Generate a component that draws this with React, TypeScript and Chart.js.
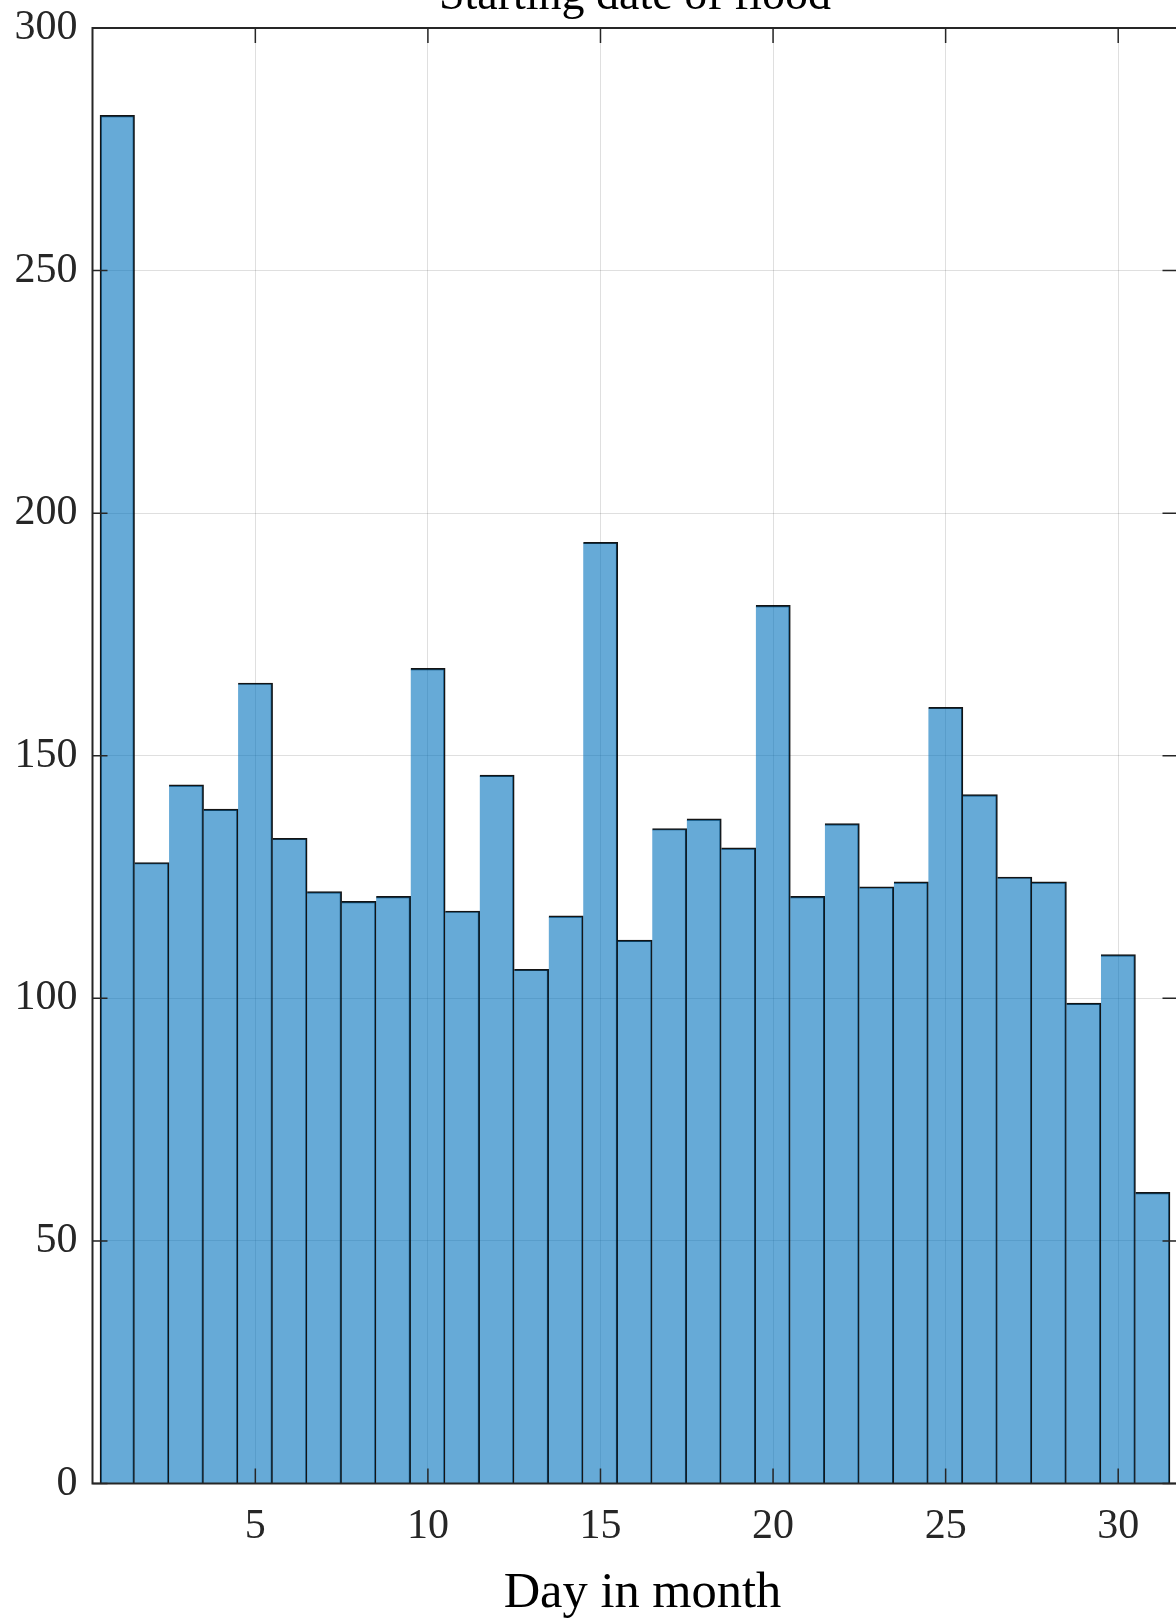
import React, { useEffect, useRef } from "react";
import { Chart, registerables } from "chart.js";

Chart.register(...registerables);

const TITLE = "Starting date of flood";
const X_LABEL = "Day in month";
const DAYS = [1,2,3,4,5,6,7,8,9,10,11,12,13,14,15,16,17,18,19,20,21,22,23,24,25,26,27,28,29,30,31];
const COUNTS = [282,128,144,139,165,133,122,120,121,168,118,146,106,117,194,112,135,137,131,181,121,136,123,124,160,142,125,124,99,109,60];
const X_TICKS = [5,10,15,20,25,30];
const Y_TICKS = [0,50,100,150,200,250,300];
const X_MIN = 0.282;
const X_MAX = 31.718;
const Y_MIN = 0;
const Y_MAX = 300;

const CANVAS_W = 1200;
const CANVAS_H = 1720;
const OFFSET_TOP = 100;
const AXIS_COLOR = "#262626";
const FONT = '"Liberation Serif", "Times New Roman", serif';

const overlay = {
  id: "matlabAxes",
  afterDatasetsDraw(chart: any) {
    const { ctx, chartArea, scales } = chart;
    const { left, right, top, bottom } = chartArea;
    ctx.save();
    ctx.strokeStyle = AXIS_COLOR;
    ctx.lineWidth = 1.5;
    const tl = 15;
    ctx.beginPath();
    for (const v of X_TICKS) {
      const px = scales.x.getPixelForValue(v);
      ctx.moveTo(px, bottom);
      ctx.lineTo(px, bottom - tl);
      ctx.moveTo(px, top);
      ctx.lineTo(px, top + tl);
    }
    for (const v of Y_TICKS) {
      const py = scales.y.getPixelForValue(v);
      ctx.moveTo(left, py);
      ctx.lineTo(left + tl, py);
      ctx.moveTo(right, py);
      ctx.lineTo(right - tl, py);
    }
    ctx.stroke();
    ctx.lineWidth = 2;
    ctx.strokeRect(left, top, right - left, bottom - top);
    ctx.restore();
  },
  afterDraw(chart: any) {
    const { ctx } = chart;
    ctx.save();
    ctx.fillStyle = "#000";
    ctx.textAlign = "center";
    ctx.textBaseline = "alphabetic";
    ctx.font = `46px ${FONT}`;
    ctx.fillText(TITLE, 635, 8.5 + OFFSET_TOP);
    ctx.font = `50.5px ${FONT}`;
    ctx.fillText(X_LABEL, 642.5, 1607 + OFFSET_TOP);
    ctx.restore();
  },
};

export default function App() {
  const ref = useRef<HTMLCanvasElement | null>(null);
  useEffect(() => {
    const canvas = ref.current;
    if (!canvas) return;
    const chart = new Chart(canvas, {
      type: "bar",
      data: {
        datasets: [
          {
            data: DAYS.map((d, i) => ({ x: d, y: COUNTS[i] })),
            backgroundColor: "rgba(0,114,189,0.6)",
            borderColor: "rgba(0,0,0,0.92)",
            borderSkipped: false,
            borderWidth: (c: any) => ({
              top: 1.5,
              right: 1.5,
              bottom: 0,
              left: c.dataIndex === 0 ? 1.5 : 0,
            }),
            categoryPercentage: 1,
            barPercentage: 1,
          } as any,
        ],
      },
      options: {
        responsive: false,
        maintainAspectRatio: false,
        animation: false,
        devicePixelRatio: 1,
        layout: {
          padding: { left: 0, right: CANVAS_W - 1177.5, top: 28 + OFFSET_TOP, bottom: 0 },
        },
        plugins: {
          legend: { display: false },
          title: { display: false },
          tooltip: { enabled: false },
        },
        scales: {
          x: {
            type: "linear",
            min: X_MIN,
            max: X_MAX,
            offset: false,
            afterBuildTicks: (s: any) => {
              s.ticks = X_TICKS.map((v) => ({ value: v }));
            },
            afterFit: (s: any) => {
              s.height = CANVAS_H - (1483.5 + OFFSET_TOP);
            },
            ticks: {
              font: { family: FONT, size: 42 },
              color: AXIS_COLOR,
              padding: 18,
              maxRotation: 0,
              autoSkip: false,
              callback: (v: any) => String(v),
            },
            grid: { color: "rgba(38,38,38,0.15)", lineWidth: 1, drawTicks: false, offset: false },
            border: { display: false },
          },
          y: {
            min: Y_MIN,
            max: Y_MAX,
            afterBuildTicks: (s: any) => {
              s.ticks = Y_TICKS.map((v) => ({ value: v }));
            },
            afterFit: (s: any) => {
              s.width = 92.5;
            },
            ticks: {
              font: { family: FONT, size: 42 },
              color: AXIS_COLOR,
              padding: 15,
              callback: (v: any) => String(v),
            },
            grid: { color: "rgba(38,38,38,0.15)", lineWidth: 1, drawTicks: false },
            border: { display: false },
          },
        },
      },
      plugins: [overlay],
    } as any);
    return () => chart.destroy();
  }, []);

  return (
    <div
      style={{
        position: "fixed",
        left: 0,
        top: 0,
        width: 1176,
        height: 1620,
        overflow: "hidden",
        background: "#fff",
      }}
    >
      <canvas
        ref={ref}
        width={CANVAS_W}
        height={CANVAS_H}
        style={{ position: "absolute", left: 0, top: -OFFSET_TOP, width: CANVAS_W, height: CANVAS_H }}
      />
    </div>
  );
}
